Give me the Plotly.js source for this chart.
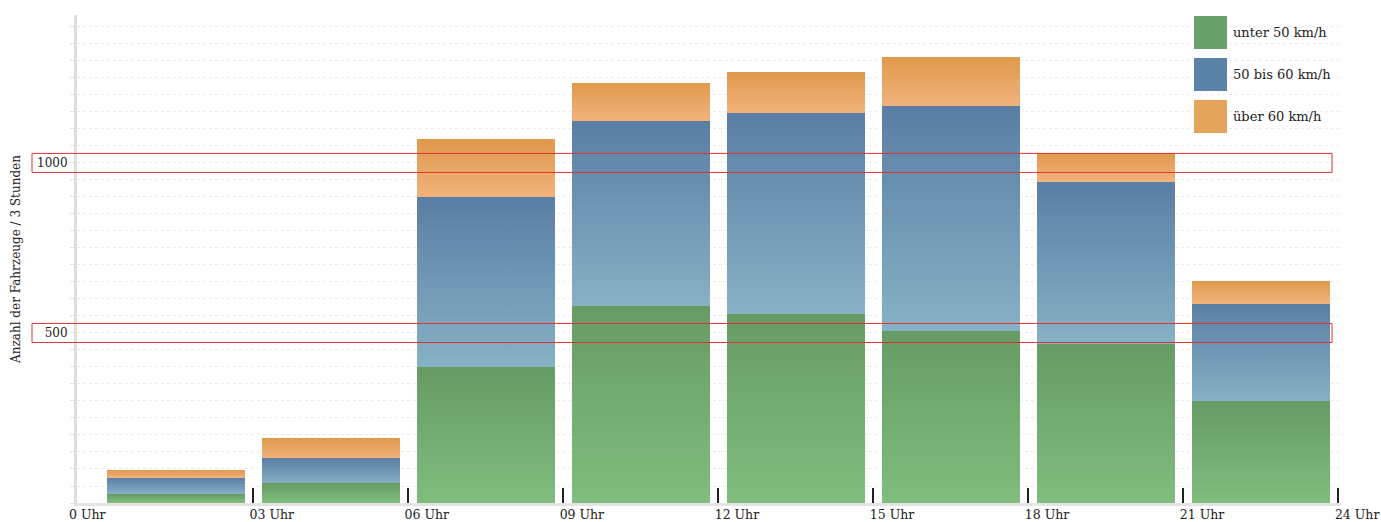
<!DOCTYPE html>
<html>
<head>
<meta charset="utf-8">
<script src="https://cdn.plot.ly/plotly-3.0.1.min.js"></script>
<style>html,body{margin:0;padding:0;background:#fff;}#chart{width:1381px;height:522px;}</style>
</head>
<body>
<div id="chart"></div>
<script>
// Data
const hours = [1.5, 4.5, 7.5, 10.5, 13.5, 16.5, 19.5, 22.5];
const unter50 = [26, 58, 399, 579, 556, 507, 468, 301];
const bis60 = [48, 73, 500, 545, 590, 659, 477, 284];
const ueber60 = [23, 59, 171, 111, 120, 145, 84, 68];
const seriesNames = ["unter 50 km/h", "50 bis 60 km/h", "über 60 km/h"];
const tickHours = [3, 6, 9, 12, 15, 18, 21, 24];
const tickLabels = ["03 Uhr", "06 Uhr", "09 Uhr", "12 Uhr", "15 Uhr", "18 Uhr", "21 Uhr", "24 Uhr"];
const firstLabel = "0 Uhr";
const yTickVals = [500, 1000];
const yTickText = ["500", "1000"];

const FONT = "DejaVu Serif, Liberation Serif, serif";
const legendColors = ["#6aa16a", "#5b83a8", "#e5a45c"];
const grads = [
  ["#679b65", "#80bd7e"],
  ["#5a7ea4", "#87b1c5"],
  ["#e09a4d", "#f1b27c"]
];

const barWidth = 2.67;
const traces = [unter50, bis60, ueber60].map((vals, i) => ({
  type: "bar",
  x: hours,
  y: vals,
  name: seriesNames[i],
  width: barWidth,
  offset: -1.33,
  marker: {color: legendColors[i], line: {width: 0}},
  hoverinfo: "skip",
  showlegend: false
}));

const shapes = [];
const annotations = [];
// red highlight boxes around the labelled y ticks
yTickVals.forEach(v => {
  shapes.push({type: "rect", xref: "paper", yref: "y", x0: -0.0356, x1: 0.9929,
    y0: v - 28, y1: v + 28, line: {color: "#dd3333", width: 1}, fillcolor: "rgba(0,0,0,0)", layer: "above"});
});
// legend drawn as squares + text
const legY = [[0.9303, 0.9980], [0.8443, 0.9119], [0.7582, 0.8258]];
seriesNames.forEach((n, i) => {
  shapes.push({type: "rect", xref: "paper", yref: "paper", x0: 0.8837, x1: 0.9098,
    y0: legY[i][0], y1: legY[i][1], fillcolor: legendColors[i], line: {width: 0}, layer: "above"});
  annotations.push({xref: "paper", yref: "paper", x: 0.9130, y: (legY[i][0] + legY[i][1]) / 2,
    xanchor: "left", yanchor: "middle", text: n, showarrow: false,
    font: {family: FONT, size: 13, color: "#222"}});
});
annotations.push({xref: "x", yref: "paper", x: 0, y: 0, xshift: -10, yshift: -2,
  xanchor: "center", yanchor: "top", text: firstLabel, showarrow: false,
  font: {family: FONT, size: 12.5, color: "#222"}});

const layout = {
  width: 1381, height: 522,
  margin: {l: 77, r: 40, t: 15, b: 19, pad: 0},
  paper_bgcolor: "#fff", plot_bgcolor: "#fff",
  barmode: "stack",
  font: {family: FONT, size: 13, color: "#222"},
  xaxis: {
    range: [-0.406, 24.05], tickvals: tickHours, ticktext: tickLabels,
    ticks: "inside", ticklen: 15, tickwidth: 2, tickcolor: "#222",
    ticklabelposition: "outside right", ticklabeloverflow: "allow",
    ticklabelshift: -6, ticklabelstandoff: -2,
    showgrid: false, zeroline: false, showline: true, linecolor: "#e4e4e4", linewidth: 3,
    automargin: false, fixedrange: true,
    tickfont: {family: FONT, size: 12.5, color: "#222"}
  },
  yaxis: {
    range: [0, 1435], tickvals: yTickVals, ticktext: yTickText,
    ticks: "outside", ticklen: 4, tickcolor: "#e0e0e0", tickwidth: 1,
    showgrid: true, gridcolor: "#ececec", griddash: "dot", gridwidth: 1,
    minor: {dtick: 50, tick0: 0, ticks: "outside", ticklen: 4, tickcolor: "#e0e0e0",
      showgrid: true, gridcolor: "#ececec", griddash: "dot", gridwidth: 1},
    zeroline: false, showline: true, linecolor: "#dedede", linewidth: 3,
    automargin: false, fixedrange: true,
    tickfont: {family: FONT, size: 12, color: "#222"},
    title: {text: "Anzahl der Fahrzeuge / 3 Stunden", standoff: 14,
      font: {family: FONT, size: 12, color: "#222"}}
  },
  shapes: shapes,
  annotations: annotations
};

Plotly.newPlot("chart", traces, layout, {displayModeBar: false, staticPlot: true}).then(gd => {
  const svg = gd.querySelector("svg.main-svg");
  const ns = "http://www.w3.org/2000/svg";
  let defs = svg.querySelector("defs");
  if (!defs) { defs = document.createElementNS(ns, "defs"); svg.insertBefore(defs, svg.firstChild); }
  grads.forEach((g, i) => {
    const lg = document.createElementNS(ns, "linearGradient");
    lg.setAttribute("id", "bargrad" + i);
    lg.setAttribute("x1", "0"); lg.setAttribute("y1", "0");
    lg.setAttribute("x2", "0"); lg.setAttribute("y2", "1");
    [[0, g[0]], [1, g[1]]].forEach(([o, c]) => {
      const s = document.createElementNS(ns, "stop");
      s.setAttribute("offset", o); s.setAttribute("stop-color", c);
      lg.appendChild(s);
    });
    defs.appendChild(lg);
  });
  const traceGroups = gd.querySelectorAll(".barlayer .trace");
  traceGroups.forEach((tg, i) => {
    tg.querySelectorAll("path").forEach(p => { p.style.fill = "url(#bargrad" + i + ")"; });
  });
});
</script>
</body>
</html>
